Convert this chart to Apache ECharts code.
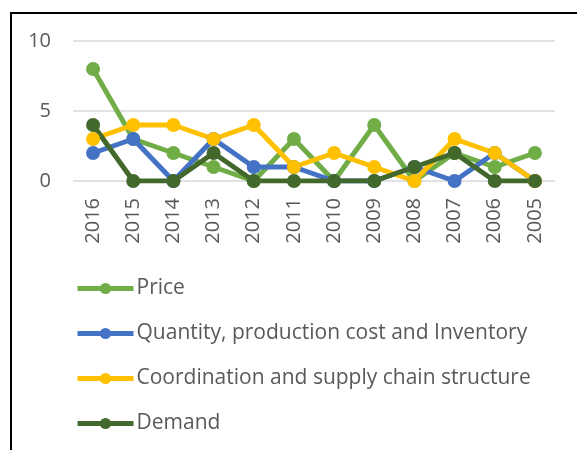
<!DOCTYPE html>
<html>
<head>
<meta charset="utf-8">
<script src="https://cdn.jsdelivr.net/npm/echarts@6/dist/echarts.min.js"></script>
<style>
  html, body { margin: 0; padding: 0; background: #fff; }
  #chart { width: 577px; height: 450px; }
</style>
</head>
<body>
<div id="chart"></div>
<script>
// years, newest first as in the source chart
var years = ["2016", "2015", "2014", "2013", "2012", "2011", "2010", "2009", "2008", "2007", "2006", "2005"];
var price = [8, 3, 2, 1, 0, 3, 0, 4, 0, 2, 1, 2];
var quantity = [2, 3, 0, 3, 1, 1, 0, 0, 1, 0, 2, 0];
var coordination = [3, 4, 4, 3, 4, 1, 2, 1, 0, 3, 2, 0];
var demand = [4, 0, 0, 2, 0, 0, 0, 0, 1, 2, 0, 0];
var yTicks = [0, 5, 10];

var font = "Open Sans";
var myChart = echarts.init(document.getElementById("chart"));

function line(name, data, color) {
  return {
    name: name,
    type: "line",
    data: data,
    symbol: "circle",
    symbolSize: 14,
    lineStyle: { width: 5, color: color },
    itemStyle: { color: color },
    emphasis: { disabled: true }
  };
}

var option = {
  animation: false,
  textStyle: { fontFamily: font },
  graphic: [
    {
      type: "rect",
      shape: { x: 11, y: 13, width: 600, height: 460 },
      style: { fill: "none", stroke: "#000", lineWidth: 2 },
      silent: true
    }
  ],
  grid: { left: 73, right: 22, top: 41, height: 140 },
  xAxis: {
    type: "category",
    data: years,
    boundaryGap: true,
    axisLine: { show: false },
    axisTick: { show: false },
    axisLabel: { rotate: 90, color: "#595959", fontSize: 20, margin: 17, fontFamily: font }
  },
  yAxis: {
    type: "value",
    min: yTicks[0],
    max: yTicks[yTicks.length - 1],
    interval: 5,
    axisLine: { show: false },
    axisTick: { show: false },
    axisLabel: { color: "#595959", fontSize: 20, margin: 22, fontFamily: font },
    splitLine: { lineStyle: { color: "#d9d9d9", width: 1.5 } }
  },
  legend: {
    orient: "vertical",
    left: 75,
    top: 278,
    padding: 0,
    itemWidth: 56,
    itemHeight: 14,
    itemGap: 24,
    lineStyle: { width: 5 },
    textStyle: { color: "#595959", fontSize: 21, fontFamily: font, padding: [0, 0, 0, -2] },
    data: ["Price", "Quantity, production cost and Inventory", "Coordination and supply chain structure", "Demand"]
  },
  series: [
    line("Price", price, "#70AD47"),
    line("Quantity, production cost and Inventory", quantity, "#4472C4"),
    line("Coordination and supply chain structure", coordination, "#FFC000"),
    line("Demand", demand, "#43682B")
  ]
};

option && myChart.setOption(option);
</script>
</body>
</html>
